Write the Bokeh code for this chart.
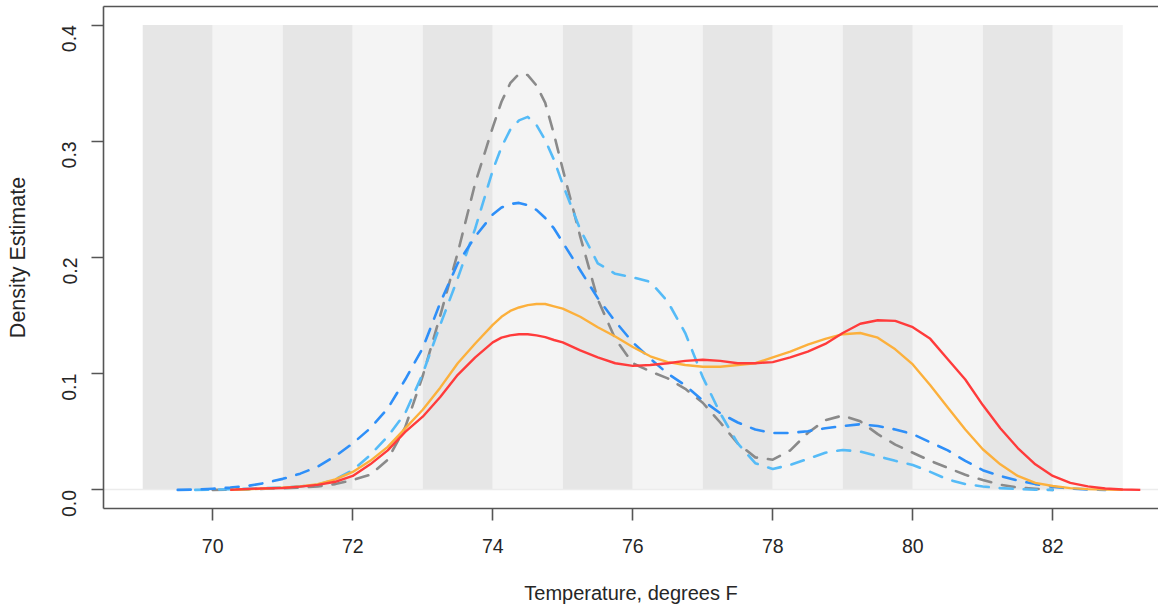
import math
from bokeh.plotting import figure
from bokeh.models import Range1d, FixedTicker, LinearAxis, NumeralTickFormatter
from bokeh.embed import file_html
from bokeh.resources import INLINE

nan = float("nan")

# Temperature grid (degrees F)
temp = [69.5, 69.75, 70.0, 70.25, 70.5, 70.75, 71.0, 71.25, 71.5, 71.75,
        72.0, 72.25, 72.5, 72.75, 73.0, 73.25, 73.5, 73.75, 74.0,
        74.125, 74.25, 74.375, 74.5, 74.625, 74.75, 74.875,
        75.0, 75.25, 75.5, 75.75, 76.0, 76.25, 76.5, 76.75,
        77.0, 77.25, 77.5, 77.75, 78.0, 78.25, 78.5, 78.75, 79.0, 79.25,
        79.5, 79.75, 80.0, 80.25, 80.5, 80.75, 81.0, 81.25, 81.5, 81.75,
        82.0, 82.25, 82.5, 82.75, 83.0, 83.25]

dens_grey = [nan, nan, 0.0, 0.0002, 0.0005, 0.001, 0.0015, 0.002, 0.003, 0.005,
             0.0085, 0.013, 0.026, 0.054, 0.098, 0.150, 0.204, 0.264, 0.312,
             0.334, 0.350, 0.358, 0.357, 0.348, 0.333, 0.306,
             0.276, 0.218, 0.164, 0.130, 0.109, 0.102, 0.096, 0.087,
             0.075, 0.058, 0.040, 0.028, 0.026, 0.034, 0.049, 0.060, 0.064, 0.059,
             0.048, 0.039, 0.032, 0.025, 0.019, 0.013, 0.0085, 0.0045, 0.002, 0.001,
             0.0, nan, nan, nan, nan, nan]

dens_lightblue = [nan, 0.0, 0.0003, 0.0006, 0.001, 0.0015, 0.002, 0.003, 0.0045, 0.009,
                  0.017, 0.030, 0.046, 0.066, 0.100, 0.142, 0.182, 0.225, 0.275,
                  0.295, 0.310, 0.318, 0.321, 0.314, 0.301, 0.284,
                  0.263, 0.224, 0.195, 0.186, 0.183, 0.179, 0.162, 0.135,
                  0.097, 0.066, 0.040, 0.023, 0.018, 0.0215, 0.0267, 0.032, 0.0344, 0.033,
                  0.029, 0.025, 0.0215, 0.0155, 0.009, 0.005, 0.003, 0.0015, 0.0007, 0.0002,
                  0.0, nan, nan, nan, nan, nan]

dens_blue = [0.0, 0.0003, 0.001, 0.002, 0.0034, 0.006, 0.0095, 0.014, 0.020, 0.029,
             0.040, 0.053, 0.070, 0.095, 0.122, 0.161, 0.195, 0.218, 0.237,
             0.243, 0.246, 0.247, 0.245, 0.241, 0.234, 0.225,
             0.213, 0.189, 0.165, 0.145, 0.127, 0.113, 0.100, 0.090,
             0.077, 0.066, 0.058, 0.052, 0.049, 0.049, 0.0505, 0.053, 0.055, 0.0565,
             0.055, 0.052, 0.048, 0.041, 0.034, 0.025, 0.017, 0.012, 0.008, 0.005,
             0.0026, 0.0012, 0.0004, 0.0, nan, nan]

dens_orange = [nan, nan, nan, 0.0, 0.0006, 0.0012, 0.002, 0.003, 0.005, 0.009,
               0.0155, 0.025, 0.037, 0.053, 0.069, 0.088, 0.109, 0.126, 0.142,
               0.149, 0.154, 0.157, 0.159, 0.160, 0.160, 0.158,
               0.156, 0.149, 0.140, 0.132, 0.123, 0.115, 0.110, 0.1075,
               0.106, 0.106, 0.1075, 0.109, 0.114, 0.119, 0.125, 0.130, 0.134, 0.135,
               0.131, 0.121, 0.108, 0.090, 0.071, 0.052, 0.035, 0.022, 0.012, 0.006,
               0.0034, 0.0015, 0.0007, 0.0003, 0.0, nan]

dens_red = [nan, nan, nan, 0.0, 0.0009, 0.0013, 0.0017, 0.0028, 0.0043, 0.007,
            0.012, 0.022, 0.034, 0.050, 0.063, 0.080, 0.099, 0.114, 0.127,
            0.131, 0.133, 0.134, 0.134, 0.133, 0.1315, 0.129,
            0.127, 0.120, 0.114, 0.109, 0.1067, 0.1075, 0.109, 0.111,
            0.112, 0.111, 0.109, 0.109, 0.110, 0.114, 0.119, 0.1256, 0.135, 0.143,
            0.146, 0.1455, 0.140, 0.130, 0.1125, 0.095, 0.073, 0.053, 0.036, 0.022,
            0.012, 0.006, 0.003, 0.0012, 0.0004, 0.0]

# background bands
band_left = [69, 70, 71, 72, 73, 74, 75, 76, 77, 78, 79, 80, 81, 82]
band_right = [70, 71, 72, 73, 74, 75, 76, 77, 78, 79, 80, 81, 82, 83]
band_top = 0.4
band_colors = ["#E6E6E6", "#F4F4F4"] * 7

x_ticks = [70, 72, 74, 76, 78, 80, 82]
y_ticks = [0.0, 0.1, 0.2, 0.3, 0.4]

FONT = "Liberation Sans"
AX = "#555555"
TXT = "#262626"

p = figure(width=1158, height=610, output_backend="svg", toolbar_location=None,
           x_range=Range1d(68.44, 83.51), y_range=Range1d(-0.016, 0.416),
           min_border_left=103, min_border_right=0, min_border_top=6, min_border_bottom=102,
           x_axis_label="Temperature, degrees F", y_axis_label="Density Estimate")
p.outline_line_color = None
p.background_fill_color = "white"
p.border_fill_color = "white"
p.xgrid.visible = False
p.ygrid.visible = False

p.quad(left=band_left, right=band_right, bottom=0, top=band_top,
       fill_color=band_colors, line_color=None)
p.hspan(y=[0.0], line_color="#ECECEC", line_width=1.5)

dash = "13 11"
p.line(temp, dens_grey, line_color="#8A8A8A", line_width=2.6, line_dash=dash,
       line_cap="round", line_join="round")
p.line(temp, dens_lightblue, line_color="#55BBF7", line_width=2.6, line_dash=dash,
       line_cap="round", line_join="round")
p.line(temp, dens_blue, line_color="#2E8FF8", line_width=2.6, line_dash=dash,
       line_cap="round", line_join="round")
p.line(temp, dens_orange, line_color="#FCB03C", line_width=2.4, line_join="round")
p.line(temp, dens_red, line_color="#FF3B3B", line_width=2.4, line_join="round")

for ax in (p.xaxis[0], p.yaxis[0]):
    ax.axis_line_color = AX
    ax.axis_line_width = 1.6
    ax.major_tick_line_color = AX
    ax.major_tick_line_width = 1.6
    ax.major_tick_out = 12
    ax.major_tick_in = 0
    ax.minor_tick_line_color = None
    ax.major_label_text_font = FONT
    ax.major_label_text_font_size = "19.5px"
    ax.major_label_text_color = TXT
    ax.axis_label_text_font = FONT
    ax.axis_label_text_font_size = "20px"
    ax.axis_label_text_font_style = "normal"
    ax.axis_label_text_color = TXT

p.xaxis[0].ticker = FixedTicker(ticks=x_ticks)
p.xaxis[0].major_label_standoff = 18
p.xaxis[0].axis_label_standoff = 26
p.yaxis[0].ticker = FixedTicker(ticks=y_ticks)
p.yaxis[0].formatter = NumeralTickFormatter(format="0.0")
p.yaxis[0].major_label_orientation = math.pi / 2
p.yaxis[0].major_label_standoff = 22
p.yaxis[0].axis_label_standoff = 23
p.yaxis[0].axis_label_text_font_size = "21.5px"

top_axis = LinearAxis(ticker=FixedTicker(ticks=[]), axis_line_color=AX, axis_line_width=1.6,
                      major_tick_line_color=None, minor_tick_line_color=None,
                      major_tick_out=0, major_tick_in=0,
                      major_label_text_font_size="0px", major_label_standoff=0)
p.add_layout(top_axis, "above")

open("out.html", "w").write(file_html(p, INLINE))
